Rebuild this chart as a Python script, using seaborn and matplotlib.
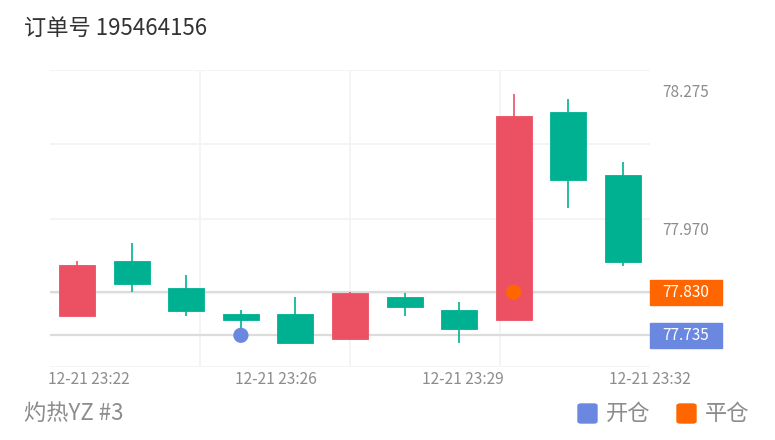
import numpy as np
import pandas as pd
import matplotlib
matplotlib.use("Agg")
import matplotlib.pyplot as plt
import seaborn as sns
from matplotlib.patches import Rectangle, FancyBboxPatch
from matplotlib.transforms import blended_transform_factory

# Candle data
opens = [77.778, 77.900, 77.840, 77.781, 77.781, 77.727, 77.820, 77.791, 77.768, 78.229, 78.090]
closes = [77.891, 77.848, 77.788, 77.768, 77.718, 77.829, 77.797, 77.748, 78.219, 78.078, 77.897]
highs = [77.899, 77.939, 77.869, 77.790, 77.819, 77.830, 77.829, 77.809, 78.268, 78.258, 78.118]
lows = [77.778, 77.830, 77.778, 77.740, 77.718, 77.727, 77.778, 77.719, 77.768, 78.017, 77.889]

# Trades
trade_idx = [3, 8]
trade_price = [77.735, 77.830]
trade_type = ["开仓", "平仓"]

time_labels = ["12-21 23:22", "12-21 23:26", "12-21 23:29", "12-21 23:32"]
price_labels = [78.275, 77.970]

title = "订单号 195464156"
footer = "灼热YZ #3"

UP = "#EC5163"
DOWN = "#00B191"
OPEN_C = "#6A88E0"
CLOSE_C = "#FF6600"

sns.set_theme(style="white")
plt.rcParams["font.family"] = ["Noto Sans CJK SC", "DejaVu Sans"]

df = pd.DataFrame({"open": opens, "close": closes, "high": highs, "low": lows})
df["x"] = np.arange(len(df))
df["color"] = np.where(df["close"] >= df["open"], UP, DOWN)

fig = plt.figure(figsize=(7.75, 4.4), dpi=100)
ax = fig.add_axes([50 / 775, 1 - 367 / 440, 600 / 775, 297 / 440])

ylo, yhi = 77.665, 78.321
ax.set_xlim(-0.5, len(df) - 0.5)
ax.set_ylim(ylo, yhi)

# grid lines (minor ticks) and labels (major ticks)
ax.set_yticks(np.linspace(ylo, yhi, 5), minor=True)
ax.set_xticks(np.linspace(-0.5, len(df) - 0.5, 5)[1:], minor=True)
ax.grid(which="minor", color="#F4F4F4", linewidth=1.4)
ax.grid(which="major", visible=False)
ax.set_yticks(price_labels)
ax.set_yticklabels([f"{v:.3f}" for v in price_labels])
ax.set_xticks(np.linspace(len(df) - 0.5 - 3 * 3.43, len(df) - 0.5, 4))
ax.set_xticklabels(time_labels)
ax.yaxis.tick_right()
ax.tick_params(axis="both", which="both", length=0)
ax.tick_params(axis="y", pad=9, labelsize=11, labelcolor="#8C8C8C")
ax.tick_params(axis="x", pad=3, labelsize=11.2, labelcolor="#8C8C8C")
for s in ax.spines.values():
    s.set_visible(False)

# mark lines at trade prices
for p in trade_price:
    ax.axhline(p, color="#DCDCDC", linewidth=1.6, zorder=1)

# wicks + bodies
ax.vlines(df["x"], df["low"], df["high"], colors=df["color"], linewidth=1.2, zorder=2)
body_lo = df[["open", "close"]].min(axis=1)
body_h = (df["open"] - df["close"]).abs()
ax.bar(df["x"], body_h, bottom=body_lo, width=0.66, color=df["color"],
       edgecolor=df["color"], linewidth=0.6, zorder=3)

# trade markers
tdf = pd.DataFrame({"x": trade_idx, "price": trade_price, "type": trade_type})
sns.scatterplot(data=tdf, x="x", y="price", hue="type",
                palette={"开仓": OPEN_C, "平仓": CLOSE_C},
                s=120, edgecolor="none", legend=False, zorder=5, ax=ax)
ax.set_xlabel("")
ax.set_ylabel("")

# price tags on the right
tr = blended_transform_factory(ax.transAxes, ax.transData)
box_h = 25 / 452
for p, c in zip(trade_price, [OPEN_C, CLOSE_C]):
    ax.add_patch(Rectangle((1.0, p - box_h / 2), 72 / 600, box_h, transform=tr,
                           color=c, clip_on=False, zorder=6))
    ax.text(1.0 + 36 / 600, p, f"{p:.3f}", transform=tr, ha="center", va="center",
            color="white", fontsize=11, zorder=7)

# title and footer
fig.text(24 / 775, 1 - 28 / 440, title, fontsize=16, color="#333333", va="center")
fig.text(24 / 775, 1 - 413 / 440, footer, fontsize=16, color="#8C8C8C", va="center")

# legend
for x0, c, lab in [(578, OPEN_C, trade_type[0]), (677, CLOSE_C, trade_type[1])]:
    fig.patches.append(FancyBboxPatch((x0 / 775, 1 - 423 / 440), 19 / 775, 19 / 440,
                                      boxstyle="round,pad=0,rounding_size=0.004",
                                      transform=fig.transFigure, color=c))
    fig.text((x0 + 28) / 775, 1 - 413 / 440, lab, fontsize=16, color="#8C8C8C", va="center")

fig.savefig("out.png", dpi=100)
